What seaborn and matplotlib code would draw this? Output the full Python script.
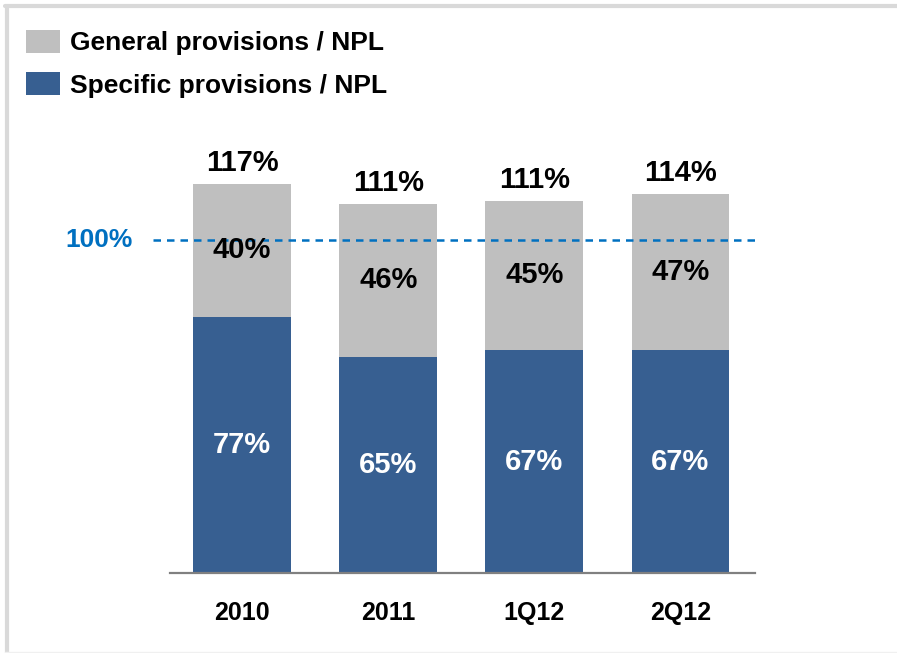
import matplotlib
matplotlib.use("Agg")
import matplotlib.pyplot as plt
import matplotlib.transforms as mtransforms
from matplotlib.patches import Patch
from matplotlib.lines import Line2D
import seaborn as sns
import pandas as pd

# Provision coverage of non-performing loans
periods = ["2010", "2011", "1Q12", "2Q12"]
specific = [77, 65, 67, 67]
general = [40, 46, 45, 47]
totals = [117, 111, 111, 114]
threshold = 100

GRAY = "#BFBFBF"
BLUE = "#375F91"
LINE_BLUE = "#0070C0"

sns.set_theme(style="white")
plt.rcParams["font.family"] = ["Liberation Sans", "DejaVu Sans"]
plt.rcParams["font.weight"] = "bold"
plt.rcParams["text.color"] = "black"

df = pd.DataFrame({"period": periods, "specific": specific, "general": general, "total": totals})
df["stack"] = df["specific"] + df["general"]

fig = plt.figure(figsize=(8.97, 6.53), dpi=100)
ax = fig.add_axes([170 / 897, 80 / 653, 585 / 897, 443 / 653])

# stacked bars: full stack in gray, specific part in blue on top of it
sns.barplot(data=df, x="period", y="stack", color=GRAY, width=0.67, saturation=1, ax=ax, linewidth=0)
sns.barplot(data=df, x="period", y="specific", color=BLUE, width=0.67, saturation=1, ax=ax, linewidth=0)

ax.set_xlim(-0.493, 3.51)
ax.set_ylim(0, 133.2)
ax.set_xlabel("")
ax.set_ylabel("")
ax.set_yticks([])
ax.tick_params(axis="x", length=0, pad=20, labelsize=18, labelcolor="black")
for lbl in ax.get_xticklabels():
    lbl.set_fontweight("bold")
for side in ["top", "right", "left"]:
    ax.spines[side].set_visible(False)
ax.spines["bottom"].set_color("#808080")
ax.spines["bottom"].set_linewidth(1.6)

# segment and total labels
for i, row in df.iterrows():
    ax.text(i, row["specific"] / 2, f"{row['specific']}%", ha="center", va="center",
            color="white", fontsize=21, fontweight="bold")
    ax.text(i, row["specific"] + row["general"] / 2, f"{row['general']}%", ha="center", va="center",
            color="black", fontsize=21, fontweight="bold")
    ax.annotate(f"{row['total']}%", (i, row["stack"]), xytext=(0, 15), textcoords="offset points",
                ha="center", va="center", color="black", fontsize=21, fontweight="bold")

# 100% reference line
ax.plot([-0.61, 3.51], [threshold, threshold], ls=(0, (3.0, 2.4)), color=LINE_BLUE, lw=1.8,
        clip_on=False, zorder=1)
trans = mtransforms.blended_transform_factory(ax.transAxes, ax.transData)
ax.text(-0.063, threshold, f"{threshold}%", transform=trans, ha="right", va="center",
        color=LINE_BLUE, fontsize=19, fontweight="bold")

# legend
handles = [Patch(facecolor=GRAY, edgecolor="none", label="General provisions / NPL"),
           Patch(facecolor=BLUE, edgecolor="none", label="Specific provisions / NPL")]
leg = fig.legend(handles=handles, loc="upper left", bbox_to_anchor=(26 / 897, 1 - 30 / 653),
                 frameon=False, fontsize=19, handlelength=1.29, handleheight=0.95,
                 handletextpad=0.38, labelspacing=0.64, borderpad=0, borderaxespad=0)
for t in leg.get_texts():
    t.set_fontweight("bold")
    t.set_color("black")

# panel frame
fig.add_artist(Line2D([7 / 897, 7 / 897], [0, 1 - 5.5 / 653], color="#D9D9D9", lw=3, transform=fig.transFigure))
fig.add_artist(Line2D([5 / 897, 1], [1 - 5.5 / 653, 1 - 5.5 / 653], color="#D9D9D9", lw=3, transform=fig.transFigure))
fig.add_artist(Line2D([5 / 897, 1], [0.8 / 653, 0.8 / 653], color="#F0F0F0", lw=1, transform=fig.transFigure))

fig.savefig("out.png", dpi=100)
